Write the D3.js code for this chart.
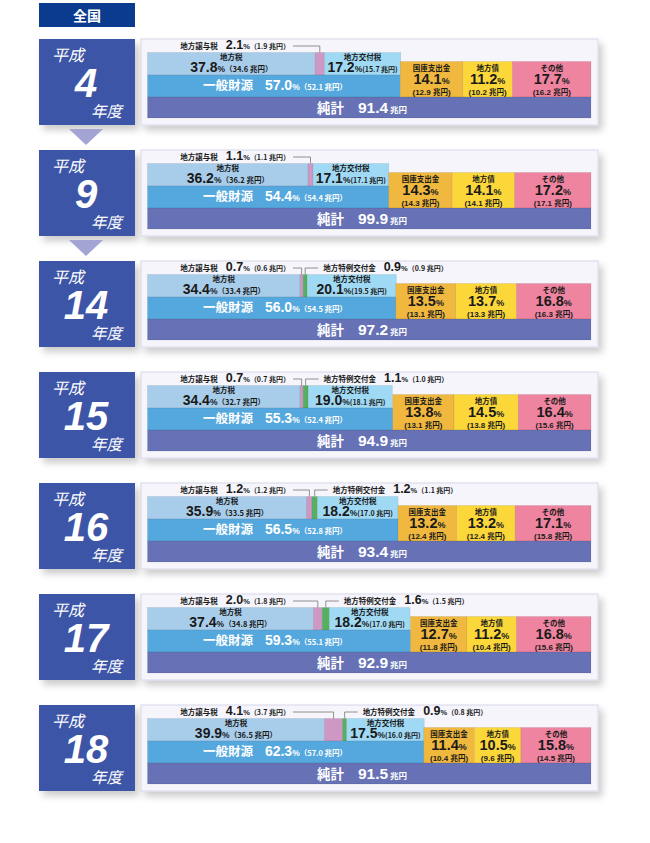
<!DOCTYPE html>
<html><head><meta charset="utf-8">
<script src="https://cdn.jsdelivr.net/npm/d3@7"></script>
<style>
html,body{margin:0;padding:0;background:#fff;}
svg{display:block;}
</style>
</head><body>
<script>
// ---------- data ----------
const years = ["4","9","14","15","16","17","18"];
const totals = [91.4, 99.9, 97.2, 94.9, 93.4, 92.9, 91.5];
const chihozeiPct = [37.8, 36.2, 34.4, 34.4, 35.9, 37.4, 39.9];
const chihozeiAmt = [34.6, 36.2, 33.4, 32.7, 33.5, 34.8, 36.5];
const joyozeiPct = [2.1, 1.1, 0.7, 0.7, 1.2, 2.0, 4.1];
const joyozeiAmt = [1.9, 1.1, 0.6, 0.7, 1.2, 1.8, 3.7];
const tokureiPct = [null, null, 0.9, 1.1, 1.2, 1.6, 0.9];
const tokureiAmt = [null, null, 0.9, 1.0, 1.1, 1.5, 0.8];
const kofuzeiPct = [17.2, 17.1, 20.1, 19.0, 18.2, 18.2, 17.5];
const kofuzeiAmt = [15.7, 17.1, 19.5, 18.1, 17.0, 17.0, 16.0];
const ippanPct = [57.0, 54.4, 56.0, 55.3, 56.5, 59.3, 62.3];
const ippanAmt = [52.1, 54.4, 54.5, 52.4, 52.8, 55.1, 57.0];
const kokkoPct = [14.1, 14.3, 13.5, 13.8, 13.2, 12.7, 11.4];
const kokkoAmt = [12.9, 14.3, 13.1, 13.1, 12.4, 11.8, 10.4];
const chihosaiPct = [11.2, 14.1, 13.7, 14.5, 13.2, 11.2, 10.5];
const chihosaiAmt = [10.2, 14.1, 13.3, 13.8, 12.4, 10.4, 9.6];
const sonotaPct = [17.7, 17.2, 16.8, 16.4, 17.1, 16.8, 15.8];
const sonotaAmt = [16.2, 17.1, 16.3, 15.6, 15.8, 15.6, 14.5];

const W = 650, H = 843;
const JP = "'Noto Sans CJK JP', 'Noto Sans', sans-serif";
const NUM = "'Liberation Sans', Arial, 'Noto Sans CJK JP', sans-serif";
const C = {
  header:"#0b3b8e", box:"#3e55a6", tri:"#a4a4d4", panel:"#f5f5fb", panelStroke:"#d8d8ec",
  chihozei:"#a8cdeb", joyozei:"#cd98c4", tokurei:"#55b060", kofuzei:"#a0d9f4",
  ippan:"#55a8de", kokko:"#f0b83f", chihosai:"#fcd73a", sonota:"#ee849f", total:"#6672b5",
  text:"#1a1a1a", line:"#777"
};

const svg = d3.select("body").append("svg").attr("width", W).attr("height", H);
const defs = svg.append("defs");
const f = defs.append("filter").attr("id","sh").attr("x","-10%").attr("y","-10%").attr("width","130%").attr("height","140%");
f.append("feDropShadow").attr("dx",4).attr("dy",5).attr("stdDeviation",3.5).attr("flood-color","#000").attr("flood-opacity",0.2);

const x = d3.scaleLinear().domain([0,100]).range([147.5, 591]);
const y = d3.scaleBand().domain(years).range([39, 791]).paddingInner(25/111).paddingOuter(0);

// header
svg.append("rect").attr("x",39).attr("y",3).attr("width",96).attr("height",24).attr("fill",C.header);
svg.append("text").attr("x",87).attr("y",20.5).attr("text-anchor","middle").attr("fill","#fff")
  .attr("font-family",JP).attr("font-weight","bold").attr("font-size",14).text("全国");

function measure(parts){
  const t = svg.append("text").attr("x",0).attr("y",-100);
  parts.forEach(p=>{
    const s = t.append("tspan").attr("font-family",p.f||NUM).attr("font-weight",p.w||"bold").attr("font-size",p.s).text(p.t);
    if(p.dx) s.attr("dx",p.dx);
    if(p.it) s.attr("font-style","italic");
  });
  const L = t.node().getComputedTextLength();
  t.remove();
  return L;
}
function block(g, lines, fill){
  const t = g.append("text").attr("fill",fill||C.text);
  lines.forEach(ln=>{
    let k = 1;
    if(ln.maxW){ const L = measure(ln.parts); if(L > ln.maxW) k = ln.maxW / L; }
    ln.parts.forEach((p,j)=>{
      const s = t.append("tspan").attr("font-family",p.f||NUM).attr("font-weight",p.w||"bold")
        .attr("font-size",p.s*k).text(p.t);
      if(p.it) s.attr("font-style","italic");
      if(j===0){ s.attr("x",ln.x).attr("y",ln.y).attr("text-anchor",ln.anchor||"middle"); }
      else if(p.dx) s.attr("dx",p.dx*k);
    });
  });
  return t;
}
const fmt = v => v.toFixed(1);

years.forEach((yr,i)=>{
  const t = y(yr);
  const g = svg.append("g");
  // label box
  g.append("rect").attr("x",39).attr("y",t).attr("width",96).attr("height",y.bandwidth()).attr("fill",C.box).attr("filter","url(#sh)");
  block(g, [
    {x:52, y:t+22, anchor:"start", parts:[{t:"平成", s:16, f:JP, w:"normal", it:true}]},
    {x:86, y:t+57.5, anchor:"middle", parts:[{t:yr, s:40, it:true}]},
    {x:91, y:t+78, anchor:"start", parts:[{t:"年度", s:15.5, f:JP, w:"normal", it:true}]}
  ], "#fff");
  if(i < 2){
    g.append("path").attr("d",`M69,${t+90} L103,${t+90} L86,${t+106} Z`).attr("fill",C.tri);
  }
  // panel
  g.append("rect").attr("x",141).attr("y",t).attr("width",457).attr("height",y.bandwidth())
    .attr("fill",C.panel).attr("stroke",C.panelStroke).attr("stroke-width",1).attr("filter","url(#sh)");

  const r1 = t+13.5, r2 = t+36, r3 = t+58, r4 = t+79, rO = t+22.5;
  const bar = (x0,x1,y0,y1,col)=> g.append("rect").attr("x",x(x0)).attr("y",y0).attr("width",Math.max(0,x(x1)-x(x0)))
      .attr("height",y1-y0).attr("fill",col).attr("stroke","rgba(0,0,0,0.12)").attr("stroke-width",0.6);

  const c0 = 0;
  const c1 = c0 + chihozeiPct[i];
  const c2 = c1 + joyozeiPct[i];
  const c3 = c2 + (tokureiPct[i]||0);
  const c4 = c3 + kofuzeiPct[i];
  bar(c0,c1,r1,r2,C.chihozei);
  bar(c1,c2,r1,r2,C.joyozei);
  if(tokureiPct[i]!=null) bar(c2,c3,r1,r2,C.tokurei);
  bar(c3,c4,r1,r2,C.kofuzei);
  const e = ippanPct[i];
  bar(0,e,r2,r3,C.ippan);
  const k1 = e + kokkoPct[i], k2 = k1 + chihosaiPct[i], k3 = k2 + sonotaPct[i];
  bar(e,k1,rO,r3,C.kokko);
  bar(k1,k2,rO,r3,C.chihosai);
  bar(k2,k3,rO,r3,C.sonota);
  bar(0,100,r3,r4,C.total);

  const mid = (a,b)=> (x(a)+x(b))/2;
  block(g, [
    {x:mid(c0,c1), y:t+21, parts:[{t:"地方税", s:7.5, f:JP}]},
    {x:mid(c0,c1), y:t+32.5, maxW:x(c1)-x(c0)-4, parts:[{t:fmt(chihozeiPct[i]),s:14},{t:"%",s:8.5},{t:"（"+fmt(chihozeiAmt[i])+" 兆円）",s:7.5,f:JP}]}
  ]);
  block(g, [
    {x:mid(c3,c4), y:t+21, parts:[{t:"地方交付税", s:7.5, f:JP}]},
    {x:mid(c3,c4), y:t+32.5, maxW:x(c4)-x(c3)-3, parts:[{t:fmt(kofuzeiPct[i]),s:14},{t:"%",s:8.5},{t:"(" + fmt(kofuzeiAmt[i])+" 兆円)",s:7,f:JP}]}
  ]);

  block(g, [{x:275, y:t+51, parts:[{t:"一般財源",s:12.5,f:JP},{t:fmt(ippanPct[i]),s:14,dx:12},{t:"%",s:8.5},{t:"（"+fmt(ippanAmt[i])+" 兆円）",s:7.5,f:JP}]}], "#fff");
  block(g, [{x:362, y:t+74, parts:[{t:"純計",s:13.5,f:JP},{t:fmt(totals[i]),s:15.5,dx:14},{t:" 兆円",s:8.5,f:JP}]}], "#fff");

  [[e,k1,"国庫支出金",kokkoPct[i],kokkoAmt[i]],[k1,k2,"地方債",chihosaiPct[i],chihosaiAmt[i]],[k2,k3,"その他",sonotaPct[i],sonotaAmt[i]]]
  .forEach(([a,b,lab,p,amt])=>{
    const cx = mid(a,b);
    block(g, [
      {x:cx, y:t+31.5, parts:[{t:lab, s:7.5, f:JP}]},
      {x:cx, y:t+45, parts:[{t:fmt(p),s:14.5},{t:"%",s:9}]},
      {x:cx, y:t+56, maxW:x(b)-x(a)-2, parts:[{t:"("+fmt(amt)+" ",s:8},{t:"兆円",s:7.5,f:JP},{t:")",s:8}]}
    ]);
  });

  const jx = mid(c1,c2);
  block(g, [{x:290, y:t+10, anchor:"end", parts:[{t:"地方譲与税",s:7.5,f:JP},{t:fmt(joyozeiPct[i]),s:12.5,dx:8},{t:"%",s:7.5},{t:"（"+fmt(joyozeiAmt[i])+" 兆円）",s:7,f:JP}]}]);
  g.append("path").attr("d",`M293,${t+7} H${jx} V${r1}`).attr("fill","none").attr("stroke",C.line).attr("stroke-width",0.8);
  if(tokureiPct[i]!=null){
    const tx = mid(c2,c3);
    g.append("path").attr("d",`M${tx},${r1} V${t+7} H${tx+13}`).attr("fill","none").attr("stroke",C.line).attr("stroke-width",0.8);
    block(g, [{x:tx+18, y:t+10, anchor:"start", parts:[{t:"地方特例交付金",s:7.5,f:JP},{t:fmt(tokureiPct[i]),s:12.5,dx:8},{t:"%",s:7.5},{t:"（"+fmt(tokureiAmt[i])+" 兆円）",s:7,f:JP}]}]);
  }
});
</script>
</body></html>
